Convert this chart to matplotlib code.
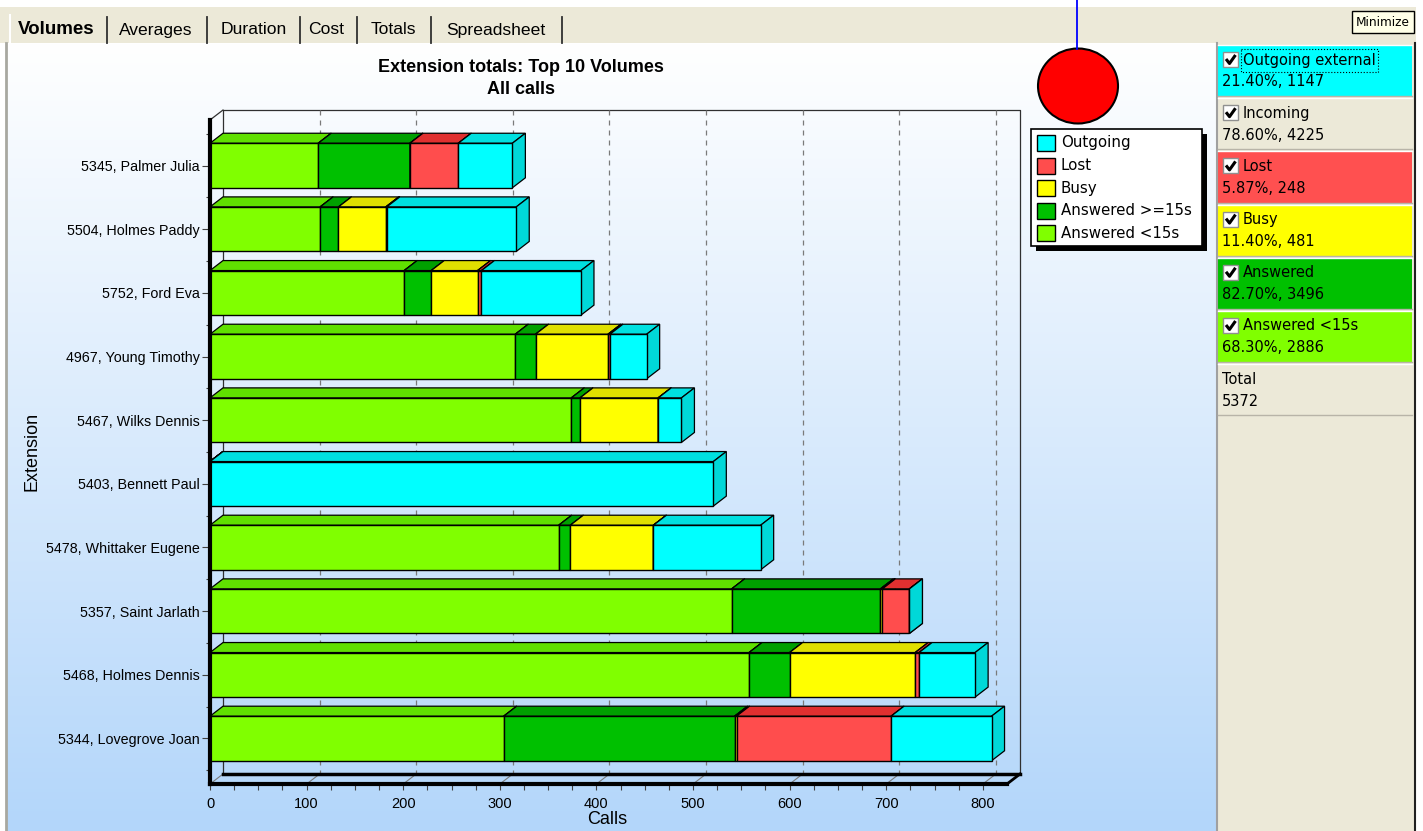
#!/usr/bin/env python3

import numpy as np
import matplotlib
matplotlib.use("Agg")
from matplotlib import pyplot as plt
from matplotlib.patches import Rectangle, Polygon, Ellipse
from matplotlib.colors import to_rgb

W, H = 1423, 831

# calls per extension, top row first
extensions = ["5345, Palmer Julia", "5504, Holmes Paddy", "5752, Ford Eva",
              "4967, Young Timothy", "5467, Wilks Dennis", "5403, Bennett Paul",
              "5478, Whittaker Eugene", "5357, Saint Jarlath", "5468, Holmes Dennis",
              "5344, Lovegrove Joan"]
answered_short = [112, 114, 201, 316, 374, 0, 361, 540, 558, 304]
answered_long = [95, 19, 28, 21, 9, 0, 12, 154, 42, 239]
busy = [0, 49, 48, 75, 81, 0, 86, 2, 130, 2]
lost = [50, 1, 4, 2, 0, 0, 0, 28, 4, 160]
outgoing = [56, 134, 103, 38, 24, 521, 111, 0, 58, 104]

series_names = ["Answered <15s", "Answered >=15s", "Busy", "Lost", "Outgoing"]
series_values = [answered_short, answered_long, busy, lost, outgoing]
front_colors = ["#80ff00", "#00c000", "#ffff00", "#ff4d4d", "#00ffff"]
top_colors = ["#60e000", "#00a000", "#e0e000", "#e03030", "#00e0e0"]
side_colors = ["#60d800", "#009800", "#d8d800", "#d82c2c", "#00d8d8"]

tab_names = ["Volumes", "Averages", "Duration", "Cost", "Totals", "Spreadsheet"]

summary_names = ["Outgoing external", "Incoming", "Lost", "Busy", "Answered", "Answered <15s"]
summary_pct = [21.40, 78.60, 5.87, 11.40, 82.70, 68.30]
summary_count = [1147, 4225, 248, 481, 3496, 2886]
summary_colors = ["#00ffff", "#ece9d8", "#ff5050", "#ffff00", "#00c000", "#80ff00"]
total_calls = 5372

BEIGE = "#ece9d8"
UI = ["DejaVu Sans"]
plt.rcParams["font.family"] = ["Liberation Sans", "DejaVu Sans"]

fig = plt.figure(figsize=(W / 100, H / 100), dpi=100)

# ---- window chrome (pixel coordinates) ----
bg = fig.add_axes([0, 0, 1, 1])
bg.axis("off")

bg.add_patch(Rectangle((0, 7), 1416, 36, color=BEIGE, lw=0))
grad = np.linspace(0, 1, 400)[:, None, None]
c0 = np.array(to_rgb("#ffffff"))
c1 = np.array(to_rgb("#b3d6fa"))
img = c0 + (c1 - c0) * grad
bg.imshow(img, extent=(7, 1216, 831, 43), aspect="auto", interpolation="bilinear", zorder=0)
bg.plot([6, 6], [43, 831], color="#a8a8a0", lw=2)

# tabs
tab_x = [56, 156, 254, 326, 393, 496]
tab_sep = [107, 207, 300, 357, 431, 562]
bg.plot([9.5, 9.5], [15, 43], color="#ffffff", lw=1.5)
for i, name in enumerate(tab_names):
    if i == 0:
        bg.text(tab_x[i], 30, name, ha="center", va="center", fontsize=13.5, fontweight="bold")
    else:
        bg.text(tab_x[i], 30, name, ha="center", va="center", fontsize=12.6)
    bg.plot([tab_sep[i], tab_sep[i]], [17, 43], color="#303030", lw=1.3)

# minimize button
bg.add_patch(Rectangle((1352, 11), 62, 22, fc="#ffffe8", ec="black", lw=1))
bg.text(1383, 22.5, "Minimize", ha="center", va="center", fontsize=8.7, family=UI)

# right summary panel
bg.add_patch(Rectangle((1216, 43), 199, 788, color=BEIGE, lw=0))
bg.plot([1216.5, 1216.5], [43, 831], color="#a0a0a0", lw=1.5)
bg.plot([1415, 1415], [43, 831], color="#202020", lw=1.5)

cell_h = 53.2
for k, name in enumerate(summary_names + ["Total"]):
    top = 44 + k * cell_h
    col = summary_colors[k] if k < len(summary_names) else BEIGE
    bg.add_patch(Rectangle((1218, top + 1), 194, cell_h - 2, fc=col, lw=0))
    bg.plot([1218, 1412], [top + 1, top + 1], color="#ffffff", lw=1)
    bg.plot([1218, 1412], [top + cell_h - 1, top + cell_h - 1], color="#b8b4a8", lw=1)
    if k < len(summary_names):
        bg.add_patch(Rectangle((1223, top + 8), 15, 15, fc="white", ec="#909090", lw=1))
        bg.plot([1226, 1229.5, 1235.5], [top + 15, top + 19.5, top + 11],
                color="black", lw=2.2, solid_capstyle="butt")
        bg.text(1243, top + 16, name, ha="left", va="center", fontsize=10.5, family=UI)
        bg.text(1222, top + 38, f"{summary_pct[k]:.2f}%, {summary_count[k]}",
                ha="left", va="center", fontsize=10.5, family=UI)
    else:
        bg.text(1222, top + 16, name, ha="left", va="center", fontsize=10.5, family=UI)
        bg.text(1222, top + 38, str(total_calls), ha="left", va="center", fontsize=10.5, family=UI)
bg.add_patch(Rectangle((1241, 49), 137, 23, fill=False, ec="black", lw=0.8, ls=":"))

# indicator
bg.plot([1077, 1077], [0, 49], color="#0000ff", lw=1.3)
bg.add_patch(Ellipse((1078, 86), 80, 75, fc="#ff0000", ec="black", lw=1.5))

# legend
bg.add_patch(Rectangle((1036, 134), 171, 117, fc="black", lw=0))
bg.add_patch(Rectangle((1031, 129), 171, 117, fc="white", ec="black", lw=1.2))
for r, j in enumerate(reversed(range(len(series_names)))):
    y = 143 + r * 22.6
    bg.add_patch(Rectangle((1037, y - 8), 18, 16, fc=front_colors[j], ec="black", lw=1))
    bg.text(1061, y, series_names[j], ha="left", va="center", fontsize=10.8, family=UI)

# titles
bg.text(521, 67, "Extension totals: Top 10 Volumes", ha="center", va="center",
        fontsize=13, fontweight="bold")
bg.text(521, 89, "All calls", ha="center", va="center", fontsize=13, fontweight="bold")
bg.text(32, 451, "Extension", ha="center", va="center", rotation=90, fontsize=13)
bg.text(607, 820, "Calls", ha="center", va="center", fontsize=13)

bg.set_xlim(0, W)
bg.set_ylim(H, 0)

# ---- 3D style stacked bar chart ----
ax = fig.add_axes([210 / W, (H - 784) / H, 797 / W, 664 / H])
ax.patch.set_alpha(0)
XMAX = 825
Y0, Y1 = -0.715, 9.715
ax.set_xlim(0, XMAX)
ax.set_ylim(Y1, Y0)
DX = 13 * XMAX / 797
DY = 10 * (Y1 - Y0) / 664
BH = 0.70
for s in ax.spines.values():
    s.set_visible(False)

xt = np.arange(0, 801, 100)
ax.plot([DX, DX, XMAX + DX, XMAX + DX], [Y1 - DY, Y0 - DY, Y0 - DY, Y1 - DY],
        color="#303030", lw=0.9, clip_on=False, zorder=1)
ax.plot([0, DX], [Y0, Y0 - DY], color="#303030", lw=0.9, clip_on=False, zorder=1)
for v in xt[1:]:
    ax.plot([v + DX, v + DX], [Y0 - DY, Y1 - DY], color="#7a7a7a", lw=0.9,
            ls=(0, (4, 4)), clip_on=False, zorder=1)
for v in xt:
    ax.plot([v, v + DX], [Y1, Y1 - DY], color="#7a7a7a", lw=0.8, clip_on=False, zorder=1)
ax.plot([DX, XMAX + DX], [Y1 - DY, Y1 - DY], color="black", lw=2.5, clip_on=False, zorder=1)
ax.plot([XMAX, XMAX + DX], [Y1, Y1 - DY], color="black", lw=2, clip_on=False, zorder=1)

ypos = np.arange(len(extensions))
lefts = np.zeros(len(extensions))
for j, vals in enumerate(series_values):
    vals = np.array(vals, dtype=float)
    for i in ypos:
        l, w = lefts[i], vals[i]
        t, b = i - BH / 2, i + BH / 2
        ax.add_patch(Polygon([(l, t), (l + w, t), (l + w + DX, t - DY), (l + DX, t - DY)],
                             closed=True, fc=top_colors[j], ec="black", lw=0.9,
                             zorder=3, clip_on=False))
        ax.add_patch(Polygon([(l + w, t), (l + w + DX, t - DY), (l + w + DX, b - DY), (l + w, b)],
                             closed=True, fc=side_colors[j], ec="black", lw=0.9,
                             zorder=3, clip_on=False))
    ax.barh(ypos, vals, left=lefts, height=BH, color=front_colors[j],
            edgecolor="black", lw=1.0, zorder=3, label=series_names[j])
    lefts = lefts + vals

ax.plot([0, XMAX], [Y1, Y1], color="black", lw=3, clip_on=False, zorder=6)
ax.plot([0, 0], [Y0, Y1], color="black", lw=3, clip_on=False, zorder=6)

ax.set_xticks(xt)
ax.set_xticks(np.arange(0, 801, 25), minor=True)
ax.set_yticks(ypos)
ax.set_yticklabels(extensions)
ax.set_yticks(np.arange(-0.5, 10, 1), minor=True)
ax.tick_params(axis="both", which="both", direction="out", color="#404040", width=0.8)
ax.tick_params(axis="x", which="major", length=4.5, pad=5, labelsize=10.5)
ax.tick_params(axis="x", which="minor", length=4)
ax.tick_params(axis="y", which="major", length=5.5, pad=2, labelsize=10.3)
ax.tick_params(axis="y", which="minor", length=3)

fig.savefig("out.png", dpi=100)
print("Saved out.png")
